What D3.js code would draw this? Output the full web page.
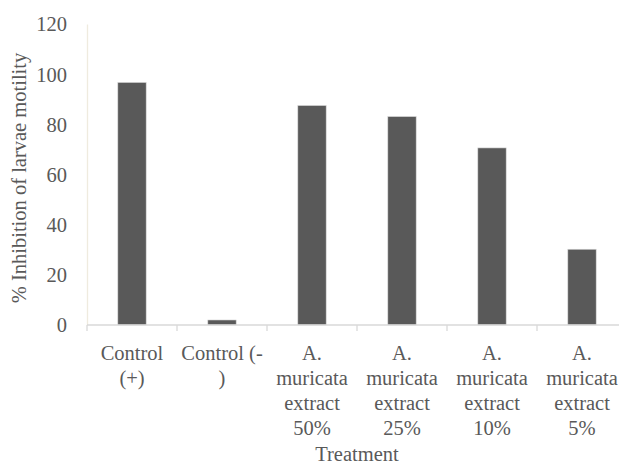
<!DOCTYPE html>
<html>
<head>
<meta charset="utf-8">
<script src="https://cdn.jsdelivr.net/npm/d3@7"></script>
<style>
  html, body { margin: 0; padding: 0; background: #fff; }
  svg { display: block; }
</style>
</head>
<body>
<svg id="chart" width="619" height="465"></svg>
<script>
// Treatment groups (each label split into its printed lines)
const categories = [
  ["Control", "(+)"],
  ["Control (-", ")"],
  ["A.", "muricata", "extract", "50%"],
  ["A.", "muricata", "extract", "25%"],
  ["A.", "muricata", "extract", "10%"],
  ["A.", "muricata", "extract", "5%"]
];
// % inhibition of larvae motility per treatment
const inhibition = [96.7, 2.0, 87.5, 83.1, 70.6, 30.2];
const yTicks = [0, 20, 40, 60, 80, 100, 120];

const FONT = "'Liberation Serif', Tinos, 'Times New Roman', 'DejaVu Serif', serif";
const INK = "#595959";
const fontSize = 20.5;

// apply the serif face and colour to a text selection
function serifText(sel) {
  return sel
    .style("font-family", FONT)
    .style("font-size", fontSize + "px")
    .style("fill", INK);
}

const svg = d3.select("#chart");
const plotLeft = 87, plotBottom = 325, plotTop = 24, plotRight = 627;

const x = d3.scaleBand()
  .domain(d3.range(categories.length))
  .range([plotLeft, plotRight])
  .padding(0);

const y = d3.scaleLinear().domain([0, 120]).range([plotBottom, plotTop]);

// Y axis: line plus labels, no tick marks
const yAxis = svg.append("g")
  .attr("transform", `translate(${plotLeft},0)`)
  .call(d3.axisLeft(y).tickValues(yTicks).tickSize(0).tickPadding(20));
yAxis.attr("font-family", null).attr("font-size", null);
yAxis.select(".domain").attr("stroke", "#efebdf").attr("stroke-width", 1.3);
yAxis.selectAll("text").attr("dy", "0.34em").call(serifText);

// Bars
const barW = x.bandwidth() * 0.315;
svg.append("g").selectAll("rect")
  .data(inhibition)
  .join("rect")
  .attr("x", (d, i) => x(i) + x.bandwidth() / 2 - barW / 2)
  .attr("y", d => y(d))
  .attr("width", barW)
  .attr("height", d => y(0) - y(d))
  .attr("fill", INK)
  .attr("stroke", "#d9d9d9")
  .attr("stroke-width", 0.6);

// X axis: baseline with outward ticks at category boundaries
const xAxis = svg.append("g").attr("transform", `translate(0,${plotBottom})`);
xAxis.append("line")
  .attr("x1", plotLeft).attr("x2", plotRight)
  .attr("y1", 0).attr("y2", 0)
  .attr("stroke", "#d9d9d9").attr("stroke-width", 1.3);
xAxis.selectAll("line.tick")
  .data(d3.range(categories.length + 1))
  .join("line")
  .attr("class", "tick")
  .attr("x1", i => plotLeft + i * x.step())
  .attr("x2", i => plotLeft + i * x.step())
  .attr("y1", 0).attr("y2", 6)
  .attr("stroke", "#d9d9d9").attr("stroke-width", 1.3);

// Multi-line category labels
const lineH = 25;
const labels = svg.append("g").selectAll("text")
  .data(categories)
  .join("text")
  .attr("text-anchor", "middle")
  .attr("transform", (d, i) => `translate(${x(i) + x.bandwidth() / 2},${plotBottom + 35})`)
  .call(serifText);
labels.selectAll("tspan")
  .data(d => d)
  .join("tspan")
  .attr("x", 0)
  .attr("y", (d, j) => j * lineH)
  .text(d => d);

// Axis titles
svg.append("text")
  .attr("x", 357).attr("y", 461)
  .attr("text-anchor", "middle")
  .call(serifText)
  .text("Treatment");

svg.append("text")
  .attr("transform", "translate(26,178) rotate(-90)")
  .attr("text-anchor", "middle")
  .call(serifText)
  .text("% Inhibition of larvae motility");
</script>
</body>
</html>
